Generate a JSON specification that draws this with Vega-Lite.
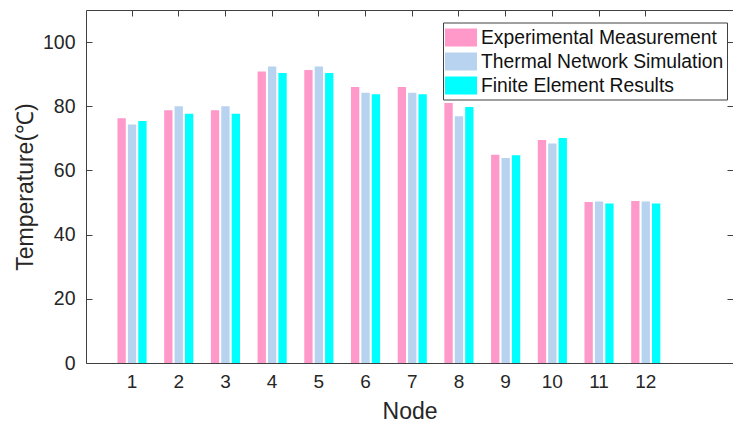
{
  "$schema": "https://vega.github.io/schema/vega-lite/v6.json",
  "width": 647,
  "height": 353,
  "autosize": "none",
  "padding": {"left": 86, "top": 10, "right": 0, "bottom": 65},
  "background": "white",
  "config": {"view": {"stroke": null}, "font": "Liberation Sans"},
  "data": {"values": [
    {"node": 1, "series": "Experimental Measurement", "value": 76.3},
    {"node": 1, "series": "Thermal Network Simulation", "value": 74.3},
    {"node": 1, "series": "Finite Element Results", "value": 75.4},
    {"node": 2, "series": "Experimental Measurement", "value": 78.75},
    {"node": 2, "series": "Thermal Network Simulation", "value": 80.0},
    {"node": 2, "series": "Finite Element Results", "value": 77.7},
    {"node": 3, "series": "Experimental Measurement", "value": 78.75},
    {"node": 3, "series": "Thermal Network Simulation", "value": 80.0},
    {"node": 3, "series": "Finite Element Results", "value": 77.7},
    {"node": 4, "series": "Experimental Measurement", "value": 90.8},
    {"node": 4, "series": "Thermal Network Simulation", "value": 92.4},
    {"node": 4, "series": "Finite Element Results", "value": 90.4},
    {"node": 5, "series": "Experimental Measurement", "value": 91.3},
    {"node": 5, "series": "Thermal Network Simulation", "value": 92.4},
    {"node": 5, "series": "Finite Element Results", "value": 90.4},
    {"node": 6, "series": "Experimental Measurement", "value": 86.0},
    {"node": 6, "series": "Thermal Network Simulation", "value": 84.25},
    {"node": 6, "series": "Finite Element Results", "value": 83.75},
    {"node": 7, "series": "Experimental Measurement", "value": 86.0},
    {"node": 7, "series": "Thermal Network Simulation", "value": 84.25},
    {"node": 7, "series": "Finite Element Results", "value": 83.75},
    {"node": 8, "series": "Experimental Measurement", "value": 81.0},
    {"node": 8, "series": "Thermal Network Simulation", "value": 76.9},
    {"node": 8, "series": "Finite Element Results", "value": 79.8},
    {"node": 9, "series": "Experimental Measurement", "value": 64.9},
    {"node": 9, "series": "Thermal Network Simulation", "value": 63.9},
    {"node": 9, "series": "Finite Element Results", "value": 64.7},
    {"node": 10, "series": "Experimental Measurement", "value": 69.5},
    {"node": 10, "series": "Thermal Network Simulation", "value": 68.4},
    {"node": 10, "series": "Finite Element Results", "value": 70.1},
    {"node": 11, "series": "Experimental Measurement", "value": 50.2},
    {"node": 11, "series": "Thermal Network Simulation", "value": 50.3},
    {"node": 11, "series": "Finite Element Results", "value": 49.7},
    {"node": 12, "series": "Experimental Measurement", "value": 50.5},
    {"node": 12, "series": "Thermal Network Simulation", "value": 50.3},
    {"node": 12, "series": "Finite Element Results", "value": 49.7}
  ]},
  "layer": [
    {
      "mark": {"type": "bar"},
      "encoding": {
        "x": {
          "field": "node", "type": "ordinal",
          "scale": {"paddingInner": 0, "paddingOuter": 0.927, "align": 0.262},
          "axis": {
            "title": "Node", "titleFontSize": 23, "titleFontWeight": "normal", "titleColor": "#262626", "titlePadding": 9,
            "labelAngle": 0, "labelFontSize": 19, "labelColor": "#262626", "labelPadding": 15,
            "tickSize": -6, "tickColor": "#404040", "domainColor": "#404040", "grid": false
          }
        },
        "xOffset": {
          "field": "series",
          "sort": ["Experimental Measurement", "Thermal Network Simulation", "Finite Element Results"],
          "scale": {"paddingInner": 0.2, "paddingOuter": 0.845}
        },
        "y": {
          "field": "value", "type": "quantitative",
          "scale": {"domain": [0, 110], "nice": false},
          "axis": {
            "title": "Temperature(℃)", "titleFontSize": 23, "titleFontWeight": "normal", "titleColor": "#262626", "titlePadding": 5,
            "values": [0, 20, 40, 60, 80, 100],
            "labelFontSize": 19.5, "labelColor": "#262626", "labelPadding": 17,
            "tickSize": -6, "tickColor": "#404040", "domainColor": "#404040", "grid": false
          }
        },
        "color": {
          "field": "series", "type": "nominal",
          "sort": ["Experimental Measurement", "Thermal Network Simulation", "Finite Element Results"],
          "scale": {"domain": ["Experimental Measurement", "Thermal Network Simulation", "Finite Element Results"], "range": ["#FF99C9", "#B8D3F0", "#00FFFF"]},
          "legend": {
            "title": null, "orient": "none", "legendX": 357, "legendY": 12.5,
            "strokeColor": "#404040", "fillColor": "white", "padding": 3,
            "symbolType": "M-1.333,-0.75H1.333V0.75H-1.333Z", "symbolSize": 576, "symbolStrokeWidth": 0, "symbolOpacity": 1,
            "symbolOffset": 3, "labelOffset": 8, "rowPadding": 1,
            "labelFontSize": 19.3, "labelColor": "#111111", "labelLimit": 400
          }
        }
      }
    },
    {
      "mark": {"type": "bar", "opacity": 0},
      "encoding": {
        "x": {
          "field": "node", "type": "ordinal",
          "axis": {"orient": "top", "title": null, "labels": false, "tickSize": -6, "tickColor": "#404040", "domainColor": "#404040", "grid": false}
        },
        "y": {
          "field": "value", "type": "quantitative",
          "axis": {"orient": "right", "title": null, "labels": false, "values": [0, 20, 40, 60, 80, 100], "tickSize": -6, "tickColor": "#404040", "domainColor": "#404040", "grid": false}
        }
      }
    }
  ],
  "resolve": {"axis": {"x": "independent", "y": "independent"}}
}
